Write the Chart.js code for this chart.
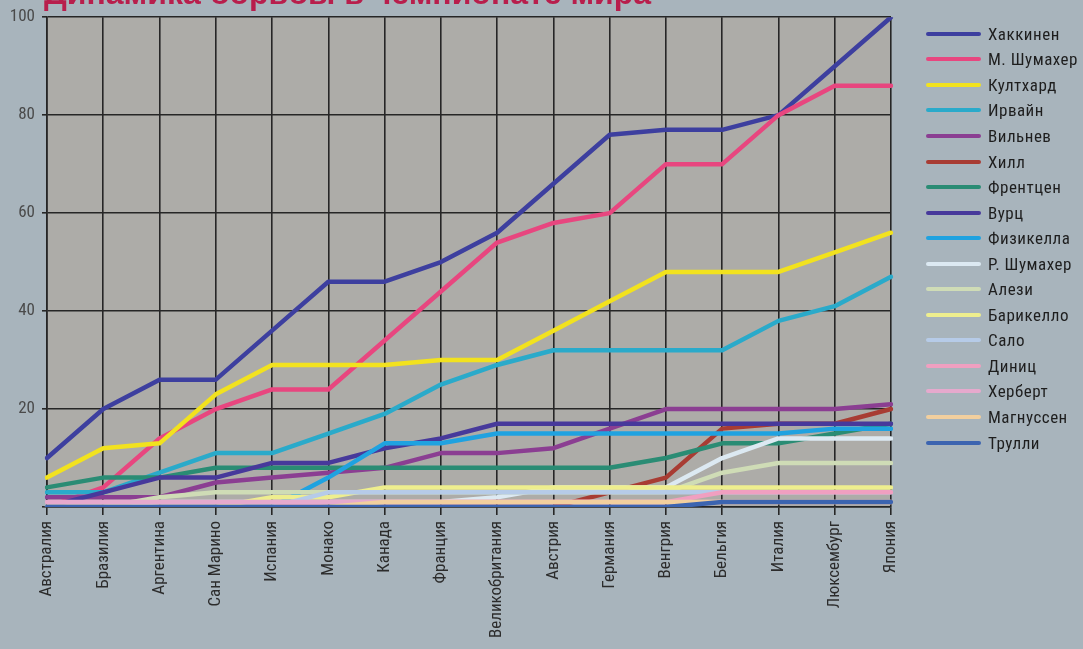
<!DOCTYPE html>
<html lang="ru">
<head>
<meta charset="utf-8">
<title>Динамика борьбы в чемпионате мира</title>
<script src="https://cdn.jsdelivr.net/npm/chart.js@4/dist/chart.umd.min.js"></script>
<style>
  html, body { margin: 0; padding: 0; }
  body { width: 1083px; height: 649px; background: #a8b4bc; overflow: hidden; position: relative;
         font-family: "Liberation Sans Narrow", "Roboto Condensed", "DejaVu Sans Condensed", "Liberation Sans", sans-serif; }
  #wrap { position: absolute; left: 0; top: 0; width: 1083px; height: 649px; }
  #title { position: absolute; left: 44px; top: -23px; margin: 0; font: 900 32px "Liberation Sans", Arial, sans-serif;
           line-height: 32px; color: #b81e4c; white-space: nowrap; }
  #legend { position: absolute; left: 926px; top: 21px; }
  .row { height: 25.56px; display: flex; align-items: center; white-space: nowrap; }
  .swatch { width: 55px; height: 4px; border-radius: 2px; margin-right: 7px; flex: none; }
  .name { font-size: 17px; letter-spacing: 0.5px; color: #1e1e1e; }
</style>
</head>
<body>
<div id="wrap"><canvas id="chart" width="1083" height="649"></canvas></div>
<h1 id="title">Динамика борьбы в чемпионате мира</h1>
<div id="legend"></div>
<script>
// Очки по ходу сезона 1998, накопительным итогом после каждого этапа.
var races = ["Австралия", "Бразилия", "Аргентина", "Сан Марино", "Испания", "Монако", "Канада", "Франция",
             "Великобритания", "Австрия", "Германия", "Венгрия", "Бельгия", "Италия", "Люксембург", "Япония"];

var hakkinen     = [10, 20, 26, 26, 36, 46, 46, 50, 56, 66, 76, 77, 77, 80, 90, 100];
var mSchumacher  = [0, 4, 14, 20, 24, 24, 34, 44, 54, 58, 60, 70, 70, 80, 86, 86];
var coulthard    = [6, 12, 13, 23, 29, 29, 29, 30, 30, 36, 42, 48, 48, 48, 52, 56];
var irvine       = [3, 3, 7, 11, 11, 15, 19, 25, 29, 32, 32, 32, 32, 38, 41, 47];
var villeneuve   = [2, 2, 2, 5, 6, 7, 8, 11, 11, 12, 16, 20, 20, 20, 20, 21];
var hill         = [0, 0, 0, 0, 0, 0, 0, 0, 0, 0, 3, 6, 16, 17, 17, 20];
var frentzen     = [4, 6, 6, 8, 8, 8, 8, 8, 8, 8, 8, 10, 13, 13, 15, 17];
var wurz         = [0, 3, 6, 6, 9, 9, 12, 14, 17, 17, 17, 17, 17, 17, 17, 17];
var fisichella   = [0, 0, 0, 0, 0, 6, 13, 13, 15, 15, 15, 15, 15, 15, 16, 16];
var rSchumacher  = [0, 0, 1, 1, 1, 1, 1, 1, 2, 4, 4, 4, 10, 14, 14, 14];
var alesi        = [0, 0, 2, 3, 3, 3, 3, 3, 3, 3, 3, 3, 7, 9, 9, 9];
var barrichello  = [0, 0, 0, 0, 2, 2, 4, 4, 4, 4, 4, 4, 4, 4, 4, 4];
var salo         = [0, 0, 0, 0, 0, 3, 3, 3, 3, 3, 3, 3, 3, 3, 3, 3];
var diniz        = [0, 0, 0, 0, 0, 1, 1, 1, 1, 1, 1, 1, 3, 3, 3, 3];
var herbert      = [1, 1, 1, 1, 1, 1, 1, 1, 1, 1, 1, 1, 1, 1, 1, 1];
var magnussen    = [0, 0, 0, 0, 0, 0, 1, 1, 1, 1, 1, 1, 1, 1, 1, 1];
var trulli       = [0, 0, 0, 0, 0, 0, 0, 0, 0, 0, 0, 0, 1, 1, 1, 1];

var yTicks = [0, 20, 40, 60, 80, 100];

var drivers = [
  { name: "Хаккинен",    data: hakkinen,    color: "#3d3f9f" },
  { name: "М. Шумахер",  data: mSchumacher, color: "#e8467f" },
  { name: "Култхард",    data: coulthard,   color: "#f2e21e" },
  { name: "Ирвайн",      data: irvine,      color: "#2aaaca" },
  { name: "Вильнев",     data: villeneuve,  color: "#8b3e92" },
  { name: "Хилл",        data: hill,        color: "#a83c33" },
  { name: "Френтцен",    data: frentzen,    color: "#2a8c74" },
  { name: "Вурц",        data: wurz,        color: "#47399b" },
  { name: "Физикелла",   data: fisichella,  color: "#1fa2e0" },
  { name: "Р. Шумахер",  data: rSchumacher, color: "#dce9f2" },
  { name: "Алези",       data: alesi,       color: "#cfdcb6" },
  { name: "Барикелло",   data: barrichello, color: "#eeee8e" },
  { name: "Сало",        data: salo,        color: "#b6cbe8" },
  { name: "Диниц",       data: diniz,       color: "#f09fc0" },
  { name: "Херберт",     data: herbert,     color: "#e6a9cd" },
  { name: "Магнуссен",   data: magnussen,   color: "#f2cf9e" },
  { name: "Трулли",      data: trulli,      color: "#3c64b0" }
];

var TEXT_FONT = '"Liberation Sans Narrow", "Roboto Condensed", "DejaVu Sans Condensed", "Liberation Sans", sans-serif';

// серый фон только под областью графика
var plotBg = {
  id: "plotBg",
  beforeDraw: function (chart) {
    var a = chart.chartArea, ctx = chart.ctx;
    ctx.save();
    ctx.fillStyle = "#adaca8";
    ctx.fillRect(a.left, a.top, a.right - a.left, a.bottom - a.top);
    ctx.restore();
  }
};

new Chart(document.getElementById("chart"), {
  type: "line",
  data: {
    labels: races,
    datasets: drivers.map(function (d, i) {
      return {
        label: d.name, data: d.data, borderColor: d.color, backgroundColor: d.color,
        borderWidth: 4.5, pointRadius: 0, tension: 0, fill: false,
        borderCapStyle: "round", borderJoinStyle: "round",
        order: drivers.length - i   // later drivers drawn on top, as in the magazine
      };
    })
  },
  options: {
    responsive: false,
    animation: false,
    layout: { padding: { top: 17, right: 192, left: 0, bottom: 0 } },
    plugins: { legend: { display: false }, tooltip: { enabled: false }, title: { display: false } },
    scales: {
      x: {
        offset: false,
        grid: { color: "#262626", lineWidth: 1.6, tickLength: 8 },
        border: { color: "#262626", width: 1.6 },
        ticks: { autoSkip: false, minRotation: 90, maxRotation: 90, padding: 6,
                 color: "#2c2c2c", font: { family: TEXT_FONT, size: 17 } },
        afterFit: function (s) { s.height = 142; }
      },
      y: {
        min: 0, max: 100,
        afterBuildTicks: function (s) { s.ticks = yTicks.map(function (v) { return { value: v }; }); },
        grid: { color: "#262626", lineWidth: 1.6, tickLength: 5 },
        border: { color: "#262626", width: 1.6 },
        ticks: { padding: 7, color: "#4a4a4a", font: { family: TEXT_FONT, size: 17 },
                 callback: function (v) { return v === 0 ? "" : v; } },
        afterFit: function (s) { s.width = 47; }
      }
    }
  },
  plugins: [plotBg]
});

// легенда справа
var legend = document.getElementById("legend");
drivers.forEach(function (d) {
  var row = document.createElement("div");
  row.className = "row";
  row.innerHTML = '<span class="swatch" style="background:' + d.color + '"></span><span class="name">' + d.name + '</span>';
  legend.appendChild(row);
});
</script>
</body>
</html>
